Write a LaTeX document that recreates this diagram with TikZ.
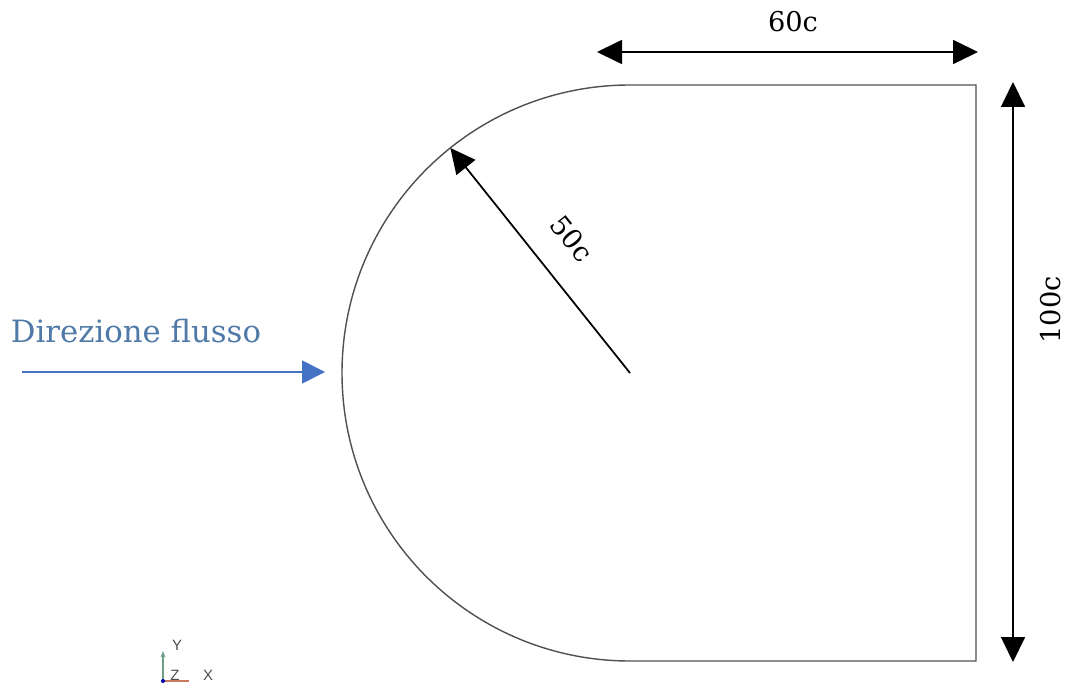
\documentclass[tikz,border=0pt]{standalone}
\usepackage{fontspec}
\setmainfont{DejaVu Serif}
\setsansfont{Liberation Sans}
\usetikzlibrary{positioning,arrows.meta,calc}
\definecolor{flowblue}{HTML}{4472C4}
\definecolor{flowtext}{HTML}{4F79A6}
\definecolor{edgegray}{HTML}{505050}
\definecolor{axgreen}{HTML}{6E9E86}
\definecolor{axred}{HTML}{C9785E}
\tikzset{
  outline/.style ={draw=edgegray, line width=0.8pt},
  dimarrow/.style={{Triangle[length=0.5cm,width=0.48cm]}-{Triangle[length=0.5cm,width=0.48cm]}, line width=1pt, black},
  radarrow/.style={-{Triangle[length=0.5cm,width=0.48cm]}, line width=1pt, black},
  flowarrow/.style={-{Triangle[length=0.46cm,width=0.46cm]}, line width=0.9pt, flowblue},
  dimlabel/.style={font=\fontsize{15.5}{18}\selectfont, inner sep=0pt},
  flowlabel/.style={font=\fontsize{17.5}{20}\selectfont, inner sep=0pt, text=flowtext},
  axlabel/.style ={font=\sffamily\fontsize{8.5}{9}\selectfont, text=black!70, inner sep=0pt},
}

\begin{document}
\begin{tikzpicture}[x=0.02cm, y=0.02cm]
  \useasboundingbox (0,0) rectangle (1071,687);
  % body outline
  \coordinate (ctr) at (630,314);
  \coordinate (tr) at (976,602);
  \coordinate (tl) at (630,602);
  \coordinate (br) at (976,26);
  \draw[outline] (tr) -- (tl) arc[start angle=90, end angle=270, radius=288] -- (br) -- cycle;
  % dimensions
  \coordinate (wl) at (597,635);
  \coordinate (wr) at (978,635);
  \draw[dimarrow] (wl) -- (wr);
  \node[dimlabel] (wlab) at (793,665) {60c};
  \coordinate (ht) at (1013,605);
  \coordinate (hb) at (1013,25);
  \draw[dimarrow] (hb) -- (ht);
  \node[dimlabel, rotate=90] (hlab) at (1051,377) {100c};
  \coordinate (rtip) at ($(ctr)+(128.6:288)$);
  \draw[radarrow] (ctr) -- (rtip);
  \coordinate (rmid) at ($(ctr)!0.49!(rtip)$);
  \node[dimlabel, rotate=-51.4] (rlab) at ($(rmid)!0.772cm!-90:(rtip)$) {50c};
  % flow direction
  \coordinate (fs) at (22,315);
  \coordinate (fe) at (325,315);
  \draw[flowarrow] (fs) -- (fe);
  \node[flowlabel] (flab) at (136,356) {Direzione flusso};
  % axes icon
  \coordinate (ax0) at (163,6);
  \coordinate (axy) at (163,36);
  \coordinate (axx) at (189,6);
  \draw[axgreen, line width=0.6pt, -{Stealth[length=1.3mm]}] (ax0) -- (axy);
  \draw[axred, line width=0.6pt] (ax0) -- (axx);
  \fill[blue!70!black] (ax0) circle (2);
  \node[axlabel] (ylab) at (177,42) {Y};
  \node[axlabel] (zlab) at (175,12) {Z};
  \node[axlabel] (xlab) at (208,12) {X};
\end{tikzpicture}
\end{document}
